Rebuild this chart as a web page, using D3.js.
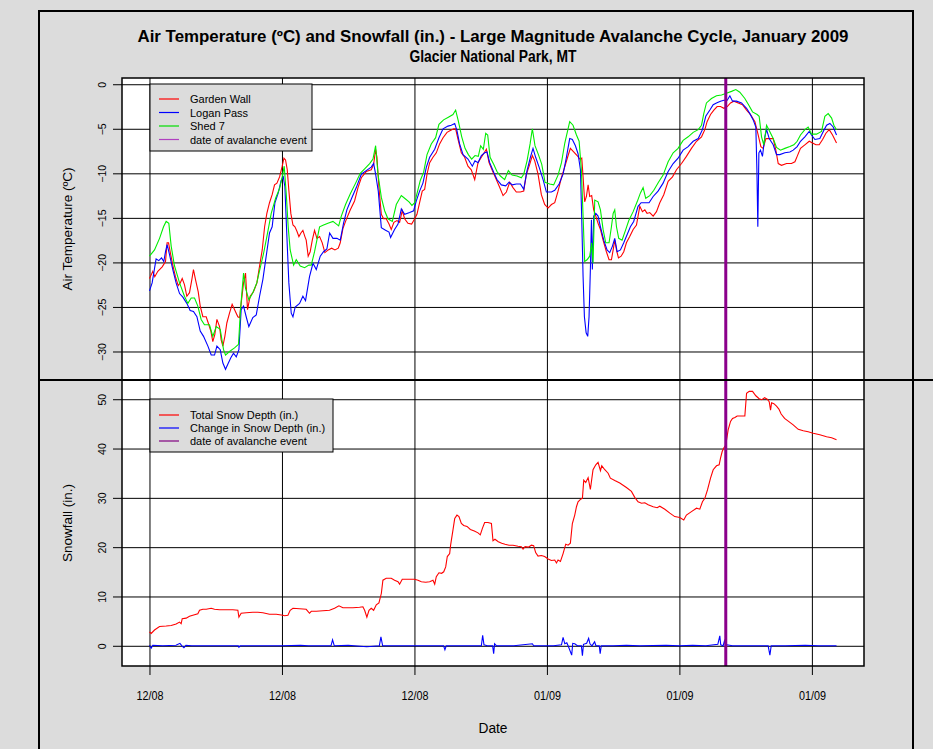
<!DOCTYPE html>
<html>
<head>
<meta charset="utf-8">
<script src="https://cdn.jsdelivr.net/npm/d3@7"></script>
<style>
  body { margin: 0; background: #dcdcdc; }
  text { font-family: "Liberation Sans", Arial, sans-serif; }
</style>
</head>
<body>
<div class="chart"></div>
<script>
// values: [days after 12/03/2008, value]
var gardenWall = [[0,-21.8],[0.25,-21.0],[0.4,-21.6],[0.63,-21.0],[0.96,-20.5],[1.21,-19.9],[1.33,-17.8],[1.44,-17.8],[1.56,-18.8],[1.76,-20.3],[1.96,-21.6],[2.17,-22.6],[2.32,-22.3],[2.47,-21.8],[2.64,-22.5],[2.82,-23.8],[3.02,-23.4],[3.2,-21.9],[3.32,-20.8],[3.47,-21.9],[3.68,-23.3],[3.83,-24.9],[4.03,-26.1],[4.28,-26.1],[4.48,-27.0],[4.63,-27.7],[4.78,-28.9],[4.93,-28.1],[5.09,-26.4],[5.29,-27.2],[5.41,-28.7],[5.54,-29.4],[5.69,-28.3],[5.84,-26.8],[6.04,-25.7],[6.24,-24.7],[6.45,-25.4],[6.67,-26.1],[6.8,-26.2],[6.95,-24.2],[7.1,-22.3],[7.25,-21.2],[7.4,-25.3],[7.6,-23.8],[7.85,-23.3],[8.11,-22.3],[8.31,-20.4],[8.51,-18.6],[8.69,-16.0],[8.86,-14.5],[9.06,-13.3],[9.26,-12.4],[9.44,-11.3],[9.62,-11.1],[9.82,-10.4],[10.02,-9.2],[10.15,-8.3],[10.27,-8.5],[10.4,-9.6],[10.52,-11.9],[10.67,-14.5],[10.83,-15.8],[10.98,-16.0],[11.13,-16.5],[11.28,-17.1],[11.43,-16.7],[11.58,-16.4],[11.73,-17.1],[11.83,-17.5],[11.98,-19.3],[12.13,-18.8],[12.29,-17.5],[12.46,-16.4],[12.64,-17.3],[12.84,-17.1],[13.04,-17.8],[13.24,-18.9],[13.49,-18.6],[13.75,-18.4],[14.0,-18.6],[14.25,-18.4],[14.4,-17.8],[14.6,-16.2],[14.85,-15.2],[15.16,-14.1],[15.48,-13.1],[15.74,-11.6],[15.99,-10.5],[16.36,-9.8],[16.74,-9.6],[16.92,-9.0],[17.07,-7.3],[17.17,-8.2],[17.32,-11.6],[17.5,-14.6],[17.67,-15.1],[17.87,-15.1],[18.08,-15.7],[18.25,-16.3],[18.45,-15.5],[18.68,-15.3],[18.88,-15.5],[19.08,-14.2],[19.26,-15.1],[19.51,-15.6],[19.79,-15.7],[20.02,-15.1],[20.19,-14.6],[20.39,-13.3],[20.59,-12.0],[20.77,-11.8],[20.95,-10.1],[21.15,-8.8],[21.4,-8.2],[21.65,-7.7],[21.9,-6.7],[22.16,-6.0],[22.46,-5.4],[22.71,-5.2],[22.96,-5.0],[23.11,-5.0],[23.29,-6.2],[23.54,-7.7],[23.79,-8.2],[24.04,-9.2],[24.29,-9.6],[24.55,-10.7],[24.8,-8.8],[25.05,-8.2],[25.3,-7.6],[25.43,-7.3],[25.63,-8.8],[25.88,-9.7],[26.18,-10.7],[26.44,-11.6],[26.69,-12.5],[26.94,-12.1],[27.19,-11.0],[27.44,-11.6],[27.69,-12.1],[27.99,-12.1],[28.25,-12.0],[28.45,-10.1],[28.7,-9.0],[28.9,-8.0],[29.08,-8.6],[29.33,-10.1],[29.58,-12.4],[29.83,-13.5],[30.09,-13.9],[30.34,-13.5],[30.59,-13.3],[30.84,-12.0],[31.09,-10.5],[31.34,-9.3],[31.6,-8.0],[31.77,-7.2],[32.02,-7.6],[32.28,-8.0],[32.48,-8.4],[32.63,-8.3],[32.73,-10.4],[32.85,-13.2],[32.98,-12.6],[33.11,-11.3],[33.23,-12.6],[33.38,-12.5],[33.53,-14.1],[33.69,-14.8],[33.86,-15.6],[34.04,-16.3],[34.24,-17.5],[34.49,-18.8],[34.69,-19.7],[34.87,-19.7],[35.0,-18.6],[35.12,-17.5],[35.25,-18.6],[35.4,-19.5],[35.6,-19.3],[35.8,-18.8],[36.0,-17.8],[36.25,-17.1],[36.51,-16.3],[36.76,-15.8],[37.01,-13.7],[37.21,-14.3],[37.39,-14.1],[37.56,-14.5],[37.76,-14.4],[38.02,-14.8],[38.27,-14.3],[38.52,-13.3],[38.82,-12.4],[39.15,-10.9],[39.48,-10.4],[39.78,-9.6],[40.16,-8.9],[40.53,-8.1],[40.91,-7.2],[41.29,-6.4],[41.67,-5.9],[41.92,-5.1],[42.09,-4.2],[42.35,-3.4],[42.6,-2.9],[42.85,-2.5],[43.1,-2.5],[43.36,-2.7],[43.61,-2.5],[43.86,-2.1],[44.11,-1.9],[44.44,-2.1],[44.76,-2.3],[45.07,-2.9],[45.37,-3.4],[45.7,-4.2],[45.95,-5.7],[46.15,-7.0],[46.32,-7.2],[46.53,-6.1],[46.78,-6.1],[47.08,-6.1],[47.28,-7.4],[47.46,-8.9],[47.71,-9.1],[48.09,-8.9],[48.46,-8.9],[48.72,-8.7],[48.89,-8.1],[49.14,-7.2],[49.47,-6.8],[49.8,-6.4],[50.05,-6.6],[50.3,-6.8],[50.55,-6.8],[50.81,-6.2],[51.06,-5.5],[51.31,-5.1],[51.56,-5.7],[51.86,-6.6]];

var loganPass = [[0,-23.2],[0.2,-22.3],[0.5,-19.6],[0.7,-19.8],[0.91,-19.5],[1.08,-19.9],[1.21,-18.8],[1.33,-18.0],[1.51,-19.1],[1.76,-20.8],[2.01,-22.3],[2.27,-23.5],[2.52,-23.9],[2.82,-24.6],[3.07,-25.4],[3.32,-25.5],[3.58,-26.1],[3.83,-27.7],[4.08,-28.3],[4.41,-29.4],[4.66,-30.4],[4.91,-30.4],[5.09,-29.4],[5.34,-29.8],[5.54,-31.3],[5.74,-32.0],[5.92,-31.4],[6.14,-30.7],[6.34,-30.2],[6.55,-30.6],[6.75,-29.8],[6.92,-25.3],[7.1,-24.9],[7.3,-26.1],[7.5,-27.2],[7.8,-26.2],[8.06,-25.9],[8.31,-23.8],[8.56,-21.9],[8.81,-19.3],[9.06,-16.7],[9.26,-16.0],[9.47,-13.3],[9.72,-12.2],[9.94,-10.8],[10.1,-10.4],[10.22,-11.5],[10.35,-16.3],[10.52,-22.3],[10.7,-25.7],[10.83,-26.1],[11.0,-25.0],[11.33,-24.6],[11.58,-23.8],[11.78,-24.3],[12.08,-21.6],[12.34,-20.1],[12.59,-20.8],[12.89,-19.3],[13.14,-18.8],[13.39,-18.5],[13.6,-16.7],[13.85,-17.3],[14.15,-17.3],[14.4,-17.5],[14.65,-15.6],[14.9,-14.1],[15.26,-12.8],[15.61,-11.6],[15.99,-10.1],[16.36,-9.7],[16.74,-9.3],[16.92,-8.9],[17.07,-10.1],[17.27,-12.0],[17.5,-16.1],[17.82,-16.4],[18.08,-16.6],[18.2,-17.2],[18.5,-16.3],[18.76,-15.7],[19.01,-14.0],[19.26,-14.6],[19.64,-14.4],[19.94,-14.2],[20.14,-13.1],[20.39,-12.0],[20.64,-11.1],[20.9,-9.3],[21.15,-8.2],[21.53,-7.3],[21.85,-6.0],[22.16,-5.0],[22.53,-4.7],[22.78,-4.6],[23.04,-4.4],[23.21,-5.2],[23.41,-6.7],[23.67,-7.9],[24.04,-8.4],[24.37,-9.2],[24.57,-8.6],[24.8,-8.8],[25.05,-8.0],[25.3,-7.7],[25.48,-7.6],[25.68,-8.8],[25.99,-9.9],[26.23,-10.7],[26.56,-11.3],[26.89,-11.4],[27.14,-11.0],[27.39,-11.3],[27.69,-11.2],[28.0,-11.2],[28.25,-11.8],[28.5,-9.7],[28.75,-8.2],[28.95,-7.2],[29.15,-8.2],[29.41,-9.3],[29.71,-10.7],[29.96,-12.1],[30.34,-12.1],[30.59,-11.9],[30.92,-11.2],[31.22,-10.1],[31.47,-8.2],[31.72,-6.1],[31.92,-6.2],[32.15,-6.9],[32.35,-7.8],[32.53,-9.6],[32.63,-15.2],[32.73,-21.6],[32.83,-26.1],[32.96,-27.9],[33.08,-28.3],[33.18,-26.1],[33.28,-20.8],[33.36,-15.2],[33.43,-20.8],[33.53,-14.8],[33.69,-14.5],[33.86,-14.8],[34.04,-16.0],[34.29,-17.5],[34.54,-18.6],[34.74,-18.9],[34.94,-18.2],[35.12,-17.3],[35.3,-18.8],[35.55,-18.6],[35.8,-17.8],[36.05,-16.9],[36.3,-16.0],[36.55,-15.4],[36.88,-13.7],[37.11,-13.3],[37.41,-13.3],[37.71,-13.3],[38.02,-12.6],[38.39,-12.0],[38.77,-11.1],[39.15,-9.8],[39.53,-8.9],[39.9,-8.3],[40.28,-7.4],[40.66,-7.0],[41.04,-6.4],[41.42,-6.1],[41.74,-5.1],[41.99,-3.6],[42.3,-2.9],[42.55,-2.3],[42.8,-2.1],[43.1,-1.9],[43.36,-1.8],[43.61,-1.8],[43.81,-1.3],[44.01,-1.9],[44.31,-1.9],[44.69,-2.1],[45.07,-2.7],[45.32,-3.3],[45.57,-4.0],[45.77,-4.8],[45.85,-9.6],[45.92,-16.0],[46.0,-7.7],[46.12,-7.4],[46.27,-8.1],[46.45,-5.9],[46.58,-5.1],[46.78,-6.1],[47.08,-6.8],[47.33,-7.9],[47.58,-7.9],[47.96,-7.7],[48.34,-7.6],[48.59,-7.4],[48.89,-7.0],[49.14,-6.4],[49.47,-5.9],[49.8,-5.3],[49.97,-5.7],[50.23,-6.2],[50.6,-6.1],[50.86,-5.3],[51.11,-4.6],[51.36,-4.4],[51.61,-4.8],[51.86,-5.7]];

var shed7 = [[0,-19.3],[0.38,-18.6],[0.76,-17.3],[1.06,-16.0],[1.26,-15.4],[1.46,-15.6],[1.64,-18.2],[1.89,-20.4],[2.27,-22.3],[2.64,-23.8],[2.9,-24.6],[3.15,-24.0],[3.4,-24.0],[3.65,-24.9],[3.9,-26.4],[4.15,-27.0],[4.53,-27.0],[4.78,-28.3],[5.04,-27.2],[5.34,-27.5],[5.59,-29.8],[5.74,-30.4],[6.04,-30.0],[6.42,-29.6],[6.72,-29.2],[6.87,-25.3],[7.1,-21.2],[7.25,-22.9],[7.5,-24.2],[7.8,-23.4],[8.1,-22.3],[8.36,-20.6],[8.61,-19.0],[8.86,-17.1],[9.19,-14.5],[9.52,-12.8],[9.82,-11.7],[10.02,-10.4],[10.17,-9.2],[10.32,-12.2],[10.47,-16.0],[10.62,-18.6],[10.88,-20.3],[11.08,-19.7],[11.38,-20.4],[11.71,-20.6],[12.03,-20.3],[12.21,-20.3],[12.46,-18.8],[12.84,-16.0],[13.14,-15.8],[13.47,-15.6],[13.85,-15.4],[14.28,-15.9],[14.48,-14.8],[14.8,-13.5],[15.16,-12.3],[15.56,-11.1],[15.91,-10.0],[16.24,-9.5],[16.62,-8.9],[16.87,-8.4],[17.07,-6.9],[17.25,-10.1],[17.5,-12.7],[17.75,-14.2],[18.0,-15.1],[18.33,-15.4],[18.63,-13.5],[19.01,-12.5],[19.26,-12.8],[19.59,-13.2],[19.81,-13.6],[20.02,-13.3],[20.22,-12.1],[20.44,-10.8],[20.69,-9.9],[20.95,-7.9],[21.27,-6.7],[21.6,-6.0],[21.85,-4.5],[22.2,-4.0],[22.56,-3.7],[22.91,-3.4],[23.11,-2.9],[23.31,-4.1],[23.57,-5.9],[23.82,-7.2],[24.07,-7.9],[24.32,-8.4],[24.57,-8.0],[24.82,-8.1],[25.0,-6.9],[25.2,-7.3],[25.38,-5.5],[25.53,-5.7],[25.71,-8.2],[25.99,-9.0],[26.23,-9.8],[26.49,-10.3],[26.81,-10.7],[27.09,-9.7],[27.37,-10.2],[27.74,-10.3],[28.07,-10.5],[28.25,-10.1],[28.5,-8.6],[28.73,-6.7],[28.9,-5.0],[29.1,-6.9],[29.36,-7.9],[29.61,-9.0],[29.86,-11.0],[30.21,-11.2],[30.51,-11.3],[30.84,-10.2],[31.1,-8.8],[31.35,-6.6],[31.72,-4.2],[31.97,-4.6],[32.23,-5.7],[32.43,-6.4],[32.6,-9.6],[32.73,-14.8],[32.85,-19.9],[33.03,-19.7],[33.23,-19.3],[33.38,-17.8],[33.48,-20.1],[33.61,-13.0],[33.86,-13.2],[34.04,-14.1],[34.24,-16.3],[34.44,-17.8],[34.69,-17.8],[34.87,-16.0],[35.0,-14.5],[35.12,-14.1],[35.25,-16.0],[35.42,-17.3],[35.67,-17.5],[35.93,-16.4],[36.18,-15.3],[36.51,-14.3],[36.81,-13.2],[37.06,-12.2],[37.26,-11.6],[37.46,-12.8],[37.76,-12.5],[38.07,-11.9],[38.42,-11.0],[38.77,-10.2],[39.15,-8.7],[39.53,-7.7],[39.9,-7.2],[40.28,-6.3],[40.66,-5.9],[41.04,-5.4],[41.42,-5.1],[41.67,-4.6],[41.84,-3.3],[42.04,-2.1],[42.42,-1.6],[42.8,-1.3],[43.18,-1.2],[43.55,-1.0],[43.93,-0.8],[44.26,-0.6],[44.56,-0.9],[44.94,-1.6],[45.22,-2.3],[45.52,-3.1],[45.87,-3.4],[46.02,-3.6],[46.2,-5.9],[46.37,-6.8],[46.58,-4.6],[46.78,-5.2],[47.08,-6.1],[47.33,-7.1],[47.63,-7.4],[47.96,-7.2],[48.34,-7.0],[48.64,-6.8],[48.89,-6.4],[49.14,-5.7],[49.47,-5.1],[49.72,-4.8],[49.97,-5.6],[50.35,-5.6],[50.73,-5.3],[50.98,-3.6],[51.23,-3.3],[51.49,-3.8],[51.66,-4.6],[51.86,-5.1]];

var snowDepth = [[0,2.8],[0.13,2.5],[0.38,3.2],[0.76,3.9],[1.26,4.0],[1.64,4.1],[2.01,4.4],[2.27,4.8],[2.39,4.5],[2.47,5.5],[2.77,5.6],[3.02,6.0],[3.27,6.2],[3.65,6.5],[3.78,7.2],[4.03,7.4],[4.28,7.4],[4.66,7.6],[4.91,7.4],[5.29,7.3],[5.79,7.3],[6.29,7.3],[6.67,7.2],[6.75,5.8],[6.92,6.6],[7.3,6.7],[7.8,6.8],[8.18,6.8],[8.56,6.7],[9.06,6.4],[9.57,6.4],[10.07,6.2],[10.2,6.1],[10.45,6.2],[10.62,7.2],[10.83,7.6],[11.33,7.5],[11.83,7.4],[12.08,6.6],[12.21,7.0],[12.59,7.0],[13.09,7.1],[13.59,7.2],[13.97,7.6],[14.3,8.1],[14.6,7.7],[14.98,7.7],[15.36,7.7],[15.86,7.8],[16.11,7.9],[16.24,7.2],[16.41,5.8],[16.57,7.2],[16.74,7.6],[16.92,7.2],[17.12,8.3],[17.32,8.7],[17.5,10.6],[17.62,13.3],[17.87,13.7],[18.25,13.7],[18.5,13.3],[18.76,13.0],[18.88,12.5],[19.08,13.5],[19.39,13.5],[19.76,13.5],[20.01,13.5],[20.27,13.3],[20.52,13.0],[20.85,12.9],[21.15,13.0],[21.4,13.3],[21.53,12.5],[21.65,14.0],[21.85,14.8],[22.05,14.7],[22.21,15.0],[22.36,16.0],[22.48,18.1],[22.66,18.7],[22.73,20.4],[22.91,23.5],[23.04,25.8],[23.21,26.5],[23.36,26.2],[23.54,24.8],[23.72,24.4],[23.97,24.2],[24.22,23.6],[24.52,23.3],[24.8,22.9],[24.97,22.5],[25.13,23.8],[25.3,25.0],[25.55,25.0],[25.81,24.8],[25.93,21.3],[26.08,21.6],[26.33,21.1],[26.59,20.8],[26.84,20.6],[27.14,20.4],[27.44,20.4],[27.82,20.2],[28.07,20.1],[28.2,19.6],[28.35,20.1],[28.6,20.0],[28.83,20.4],[29.0,20.3],[29.15,18.9],[29.33,18.2],[29.58,18.3],[29.83,18.1],[30.09,17.6],[30.34,17.3],[30.59,17.4],[30.72,16.8],[30.84,17.4],[31.02,17.1],[31.22,18.7],[31.42,20.6],[31.6,20.4],[31.77,20.8],[31.92,24.8],[32.1,26.5],[32.23,28.2],[32.35,29.2],[32.53,29.7],[32.68,29.9],[32.78,33.6],[32.93,33.1],[33.11,34.1],[33.28,31.7],[33.48,35.7],[33.69,36.7],[33.86,37.2],[34.04,35.5],[34.14,36.5],[34.37,35.7],[34.62,35.0],[34.79,34.0],[35.12,33.5],[35.5,33.0],[36.0,32.1],[36.38,31.3],[36.63,30.1],[36.88,29.2],[37.14,28.9],[37.39,29.0],[37.64,28.6],[38.02,28.2],[38.32,28.0],[38.52,28.3],[38.9,27.7],[39.28,26.9],[39.65,26.2],[40.03,26.0],[40.33,25.5],[40.53,26.5],[40.91,27.2],[41.29,27.9],[41.54,27.7],[41.74,29.2],[41.92,29.9],[42.12,31.6],[42.35,34.0],[42.55,35.7],[42.8,36.5],[43.0,36.7],[43.1,38.0],[43.23,39.4],[43.35,40.1],[43.5,40.7],[43.68,43.8],[43.86,45.5],[44.01,46.1],[44.19,46.3],[44.36,46.6],[44.69,46.6],[44.94,46.6],[45.07,51.2],[45.27,51.6],[45.52,51.6],[45.77,50.7],[46.02,50.1],[46.22,49.9],[46.43,50.3],[46.63,50.0],[46.78,49.5],[46.88,47.8],[46.96,49.3],[47.13,49.1],[47.33,48.6],[47.51,48.0],[47.68,47.0],[47.94,46.1],[48.24,45.5],[48.59,44.8],[48.97,43.9],[49.35,43.6],[49.72,43.4],[50.1,43.1],[50.6,42.8],[51.11,42.4],[51.49,42.2],[51.86,41.8]];

var snowChange = [[0,0.1],[0.13,-0.5],[0.25,0.1],[1.0,0],[2.0,0.1],[2.3,0.5],[2.45,0],[2.6,-0.4],[2.75,0.1],[3.2,0],[4.5,0],[6.7,0],[6.75,-0.3],[6.85,0],[8,0],[10,0],[11.4,0.1],[12,0],[13.7,0],[13.82,1.2],[13.95,0],[15,0.1],[16.4,-0.2],[17.35,0],[17.47,1.8],[17.6,0],[19,0],[21,0],[22.2,0],[22.3,-0.8],[22.4,0],[23.5,0],[25.05,0],[25.15,2.1],[25.25,0.2],[25.5,0],[25.9,0],[25.98,-1.6],[26.05,0.4],[26.2,0],[27.5,0],[28.9,0.4],[29.0,0],[30.5,0],[31.1,0.2],[31.22,1.7],[31.35,0.4],[31.5,0.6],[31.6,0],[31.87,-1.9],[31.95,0.5],[32.1,0.4],[32.3,0],[32.6,0],[32.68,-2.0],[32.76,0.3],[33.0,0.5],[33.15,1.5],[33.25,0.4],[33.4,0],[33.6,0.8],[33.7,0],[33.95,0],[34.02,-1.6],[34.1,0],[35,0],[36,0.1],[37,0],[39,0.1],[40,0],[41,0.1],[42,0],[42.9,0.3],[43.05,2.0],[43.12,0.2],[43.3,0],[43.4,1.0],[43.5,0],[43.6,0.2],[44,0],[45,0],[46.7,0],[46.83,-1.9],[46.93,0],[48,0],[49.5,0.1],[50.5,0],[51.86,0]];

var avalancheDay = 43.5;
var dateTickDays = [0, 10, 20, 30, 40, 50];
var tempTicks = [0, -5, -10, -15, -20, -25, -30];
var snowTicks = [0, 10, 20, 30, 40, 50];

var tempLegend = [
  { label: "Garden Wall", color: "#ff0000" },
  { label: "Logan Pass", color: "#0000ff" },
  { label: "Shed 7", color: "#00dd00" },
  { label: "date of avalanche event", color: "#b040c0" }
];
var snowLegend = [
  { label: "Total Snow Depth (in.)", color: "#ff0000" },
  { label: "Change in Snow Depth (in.)", color: "#0000ff" },
  { label: "date of avalanche event", color: "#800080" }
];

var svgWidth = 933;
var svgHeight = 749;

// plot region edges (both panels share left/right)
var plot = { left: 122, right: 864, top: 78, mid: 380, bottom: 666 };

var svg = d3.select(".chart")
  .append("svg")
  .attr("width", svgWidth)
  .attr("height", svgHeight);

svg.append("rect")
  .attr("width", svgWidth)
  .attr("height", svgHeight)
  .attr("fill", "#dcdcdc");

// outer frame
svg.append("rect")
  .attr("x", 39)
  .attr("y", 11)
  .attr("width", 874)
  .attr("height", 760)
  .attr("fill", "none")
  .attr("stroke", "#000")
  .attr("stroke-width", 2);

svg.append("rect")
  .attr("x", plot.left)
  .attr("y", plot.top)
  .attr("width", plot.right - plot.left)
  .attr("height", plot.bottom - plot.top)
  .attr("fill", "#fff");

// scales
var startTime = Date.UTC(2008, 11, 3);
function toDate(day) {
  return new Date(startTime + day * 864e5);
}
var lastDay = d3.max(snowDepth, d => d[0]);
var pad = lastDay * 0.04;

var xTimeScale = d3.scaleUtc()
  .domain([toDate(-pad), toDate(lastDay + pad)])
  .range([plot.left, plot.right]);

var tempScale = d3.scaleLinear()
  .domain([-33.2, 0.7])
  .range([plot.mid, plot.top]);

var snowScale = d3.scaleLinear()
  .domain([-4.1, 53.9])
  .range([plot.bottom, plot.mid]);

// x axis, ticks run up through both panels as grid lines
var xAxis = svg.append("g")
  .attr("transform", `translate(0, ${plot.bottom})`)
  .call(d3.axisBottom(xTimeScale)
    .tickValues(dateTickDays.map(toDate))
    .tickFormat(d3.utcFormat("%m/%y"))
    .tickSizeOuter(0));
xAxis.select(".domain").remove();
xAxis.selectAll(".tick line")
  .attr("y1", -(plot.bottom - plot.top))
  .attr("y2", 9);
// narrow look: squeeze the regular face
xAxis.selectAll(".tick text")
  .attr("y", 34)
  .attr("dy", null)
  .attr("font-size", 12.5)
  .attr("font-family", "Liberation Sans, Arial, sans-serif")
  .attr("textLength", 27)
  .attr("lengthAdjust", "spacingAndGlyphs")
  .attr("fill", "#000");

// y axes with rotated labels and full-width grid lines
function drawYAxis(scale, ticks) {
  var g = svg.append("g")
    .attr("transform", `translate(${plot.left}, 0)`)
    .call(d3.axisLeft(scale).tickValues(ticks).tickSizeOuter(0));
  g.select(".domain").remove();
  g.selectAll(".tick line")
    .attr("x1", plot.right - plot.left)
    .attr("x2", -9);
  g.selectAll(".tick text")
    .attr("x", null)
    .attr("dy", null)
    .attr("transform", "translate(-16, 0) rotate(-90)")
    .attr("text-anchor", "middle")
    .attr("font-size", 10.5)
    .attr("font-family", "Liberation Sans, Arial, sans-serif")
    .attr("fill", "#000");
  return g;
}
drawYAxis(tempScale, tempTicks);
drawYAxis(snowScale, snowTicks);

// data lines
var tempLine = d3.line()
  .x(d => xTimeScale(toDate(d[0])))
  .y(d => tempScale(d[1]));
var snowLine = d3.line()
  .x(d => xTimeScale(toDate(d[0])))
  .y(d => snowScale(d[1]));

[[gardenWall, "#ff0000"], [loganPass, "#0000ff"], [shed7, "#00ee00"]].forEach(function(s) {
  svg.append("path")
    .datum(s[0])
    .attr("d", tempLine)
    .attr("fill", "none")
    .attr("stroke", s[1])
    .attr("stroke-width", 1.1);
});

svg.append("path")
  .datum(snowDepth)
  .attr("d", snowLine)
  .attr("fill", "none")
  .attr("stroke", "#ff0000")
  .attr("stroke-width", 1.1);

svg.append("path")
  .datum(snowChange)
  .attr("d", snowLine)
  .attr("fill", "none")
  .attr("stroke", "#0000ff")
  .attr("stroke-width", 1.1);

// avalanche date
svg.append("line")
  .attr("x1", xTimeScale(toDate(avalancheDay)))
  .attr("x2", xTimeScale(toDate(avalancheDay)))
  .attr("y1", plot.top)
  .attr("y2", plot.bottom)
  .attr("stroke", "#8b008b")
  .attr("stroke-width", 3);

// panel borders
svg.append("rect")
  .attr("x", plot.left)
  .attr("y", plot.top)
  .attr("width", plot.right - plot.left)
  .attr("height", plot.bottom - plot.top)
  .attr("fill", "none")
  .attr("stroke", "#000")
  .attr("stroke-width", 1.5);

svg.append("line")
  .attr("x1", 39)
  .attr("x2", svgWidth)
  .attr("y1", plot.mid)
  .attr("y2", plot.mid)
  .attr("stroke", "#000")
  .attr("stroke-width", 2);

// legends
function drawLegend(x0, y0, w, h, items, firstRow, rowStep) {
  var g = svg.append("g").attr("transform", `translate(${x0}, ${y0})`);
  g.append("rect")
    .attr("width", w)
    .attr("height", h)
    .attr("fill", "#dcdcdc")
    .attr("stroke", "#000");
  items.forEach(function(item, i) {
    var yy = firstRow + i * rowStep;
    g.append("line")
      .attr("x1", 9)
      .attr("x2", 29)
      .attr("y1", yy)
      .attr("y2", yy)
      .attr("stroke", item.color)
      .attr("stroke-width", 1.2);
    g.append("text")
      .attr("x", 40)
      .attr("y", yy + 4)
      .attr("font-size", 11)
      .text(item.label);
  });
}
drawLegend(150, 84, 162, 67, tempLegend, 15, 13.5);
drawLegend(150, 399, 183, 53, snowLegend, 16, 13);

// titles (squeezed to the narrow width of the original)
svg.append("text")
  .attr("x", 493)
  .attr("y", 42)
  .attr("text-anchor", "middle")
  .attr("font-weight", "bold")
  .attr("font-size", 16)
  .attr("textLength", 711)
  .attr("lengthAdjust", "spacingAndGlyphs")
  .text("Air Temperature (ºC) and Snowfall (in.) - Large Magnitude Avalanche Cycle, January 2009");

svg.append("text")
  .attr("x", 493)
  .attr("y", 62)
  .attr("text-anchor", "middle")
  .attr("font-weight", "bold")
  .attr("font-size", 16)
  .attr("textLength", 167)
  .attr("lengthAdjust", "spacingAndGlyphs")
  .text("Glacier National Park, MT");

svg.append("text")
  .attr("transform", `translate(72, ${(plot.top + plot.mid) / 2}) rotate(-90)`)
  .attr("text-anchor", "middle")
  .attr("font-size", 13.5)
  .text("Air Temperature (ºC)");

svg.append("text")
  .attr("transform", `translate(72, ${(plot.mid + plot.bottom) / 2}) rotate(-90)`)
  .attr("text-anchor", "middle")
  .attr("font-size", 13.5)
  .text("Snowfall (in.)");

svg.append("text")
  .attr("x", (plot.left + plot.right) / 2)
  .attr("y", 733)
  .attr("text-anchor", "middle")
  .attr("font-size", 14)
  .attr("textLength", 29)
  .attr("lengthAdjust", "spacingAndGlyphs")
  .text("Date");
</script>
</body>
</html>
